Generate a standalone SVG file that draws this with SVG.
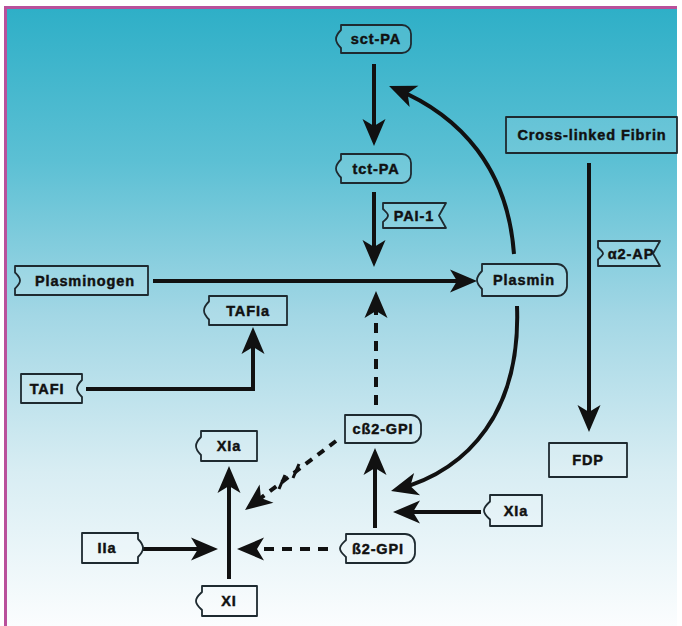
<svg xmlns="http://www.w3.org/2000/svg" width="682" height="626" viewBox="0 0 682 626">
<defs>
<linearGradient id="bg" x1="0" y1="0" x2="0" y2="1">
<stop offset="0" stop-color="#2eafc7"/>
<stop offset="0.25" stop-color="#5cc0d4"/>
<stop offset="0.5" stop-color="#a3d7e5"/>
<stop offset="0.75" stop-color="#d8edf3"/>
<stop offset="1" stop-color="#fbfdfe"/>
</linearGradient>
<marker id="ah" viewBox="-27 -12 35 24" refX="0" refY="0" markerWidth="35" markerHeight="24" orient="auto" markerUnits="userSpaceOnUse" overflow="visible">
<path d="M6,0 L-21,-11.5 L-14,0 L-21,11.5 Z" fill="#111"/>
</marker>
<style>
.nb{fill:rgba(255,255,255,0.13);stroke:#1e2a30;stroke-width:1.8;stroke-linejoin:round}
.t{font-family:"Liberation Sans",Arial,Helvetica,sans-serif;font-weight:bold;font-size:14.5px;letter-spacing:0.9px;fill:#111;stroke:#111;stroke-width:0.45px;text-anchor:middle}
.c{fill:none;stroke:#111;stroke-width:4;marker-end:url(#ah)}
.d{stroke-dasharray:10 8}
.h{fill:none;stroke:#111;stroke-width:3}
</style>
</defs>
<rect x="0" y="0" width="682" height="626" fill="#ffffff"/>
<rect x="5" y="7" width="672" height="619" fill="url(#bg)"/>
<path d="M5.5,626 V7.5 H677" fill="none" stroke="#b9509b" stroke-width="3"/>

<g id="connectors">
<path class="c" d="M374,64 V140"/>
<path class="c" d="M374,192 V261"/>
<path class="c" d="M153,281 H471"/>
<path class="c d" d="M376,405 V297"/>
<path class="c" d="M514,254 C508,170 462,116 394.6,88.3"/>
<path class="c" d="M517,306 C521,410 470,470 396.8,489.5"/>
<path class="c" d="M589,163 V426"/>
<path class="c" d="M86,389 H253 V333"/>
<path class="c" d="M375,528 V454"/>
<path class="c" d="M481,512 H399"/>
<path class="c d" style="stroke-dasharray:8 7" d="M336,441 L249.8,506.4"/>
<path class="h" d="M279,489 L285,475 M293,478 L299,464"/>
<path class="c" d="M229,579 V472"/>
<path class="c" d="M142,549 H212"/>
<path class="c d" d="M328,549 H243"/>
</g>

<g id="sct-PA">
<path class="nb" d="M341,25 H402 A9,9 0 0 1 411,34 V44 A9,9 0 0 1 402,53 H341 V48 C339,46 336,43 336,39 C336,35 339,32 341,30 Z"/>
<text class="t" x="376" y="44">sct-PA</text>
</g>
<g id="tct-PA">
<path class="nb" d="M341,154 H402 A9,9 0 0 1 411,163 V174 A9,9 0 0 1 402,183 H341 V177.5 C339,175.5 336,172.5 336,168.5 C336,164.5 339,161.5 341,159.5 Z"/>
<text class="t" x="376" y="173.5">tct-PA</text>
</g>
<g id="PAI-1">
<path class="nb" d="M383,203 H446 L439,215.5 L446,228 H383 V222 C385,220 388,218 388,215.5 C388,213 385,211 383,209 Z"/>
<text class="t" x="414" y="220.5">PAI-1</text>
</g>
<g id="Plasminogen">
<path class="nb" d="M15,266 H148 V295 H15 V288.5 C17,286.5 20,284 20,280.5 C20,277 17,274.5 15,272.5 Z"/>
<text class="t" x="85" y="285.5">Plasminogen</text>
</g>
<g id="TAFIa">
<path class="nb" d="M209,296 H287 V325 H209 V319.5 C207,317.5 204,314.5 204,310.5 C204,306.5 207,303.5 209,301.5 Z"/>
<text class="t" x="248" y="315.5">TAFIa</text>
</g>
<g id="Plasmin">
<path class="nb" d="M482,264 H557 A10,10 0 0 1 567,274 V286 A10,10 0 0 1 557,296 H482 V289 C480,287 477,284 477,280 C477,276 480,273 482,271 Z"/>
<text class="t" x="524" y="285">Plasmin</text>
</g>
<g id="Cross-linked-Fibrin">
<rect class="nb" x="506" y="117" width="171" height="36"/>
<text class="t" x="592" y="140">Cross-linked Fibrin</text>
</g>
<g id="a2-AP">
<path class="nb" d="M598,241 H660 L653,253.5 L660,266 H598 V259.5 C600,257.5 603,255.5 603,253.5 C603,251.5 600,249.5 598,247.5 Z"/>
<text class="t" x="631" y="258.5">α2-AP</text>
</g>
<g id="TAFI">
<path class="nb" d="M21,374 H82 V380 C80,382 77,385 77,388.5 C77,392 80,395 82,397 V403 H21 Z"/>
<text class="t" x="47" y="393.5">TAFI</text>
</g>
<g id="FDP">
<rect class="nb" x="549" y="443" width="78" height="34"/>
<text class="t" x="588" y="465">FDP</text>
</g>
<g id="cB2-GPI">
<path class="nb" d="M345,415 H411 A10,10 0 0 1 421,425 V433 A10,10 0 0 1 411,443 H345 Z"/>
<text class="t" x="383" y="434">cß2-GPI</text>
</g>
<g id="XIa-left">
<path class="nb" d="M201,431 H257 V461 H201 V455 C199,453 196,450 196,446 C196,442 199,439 201,437 Z"/>
<text class="t" x="229" y="451">XIa</text>
</g>
<g id="XIa-right">
<path class="nb" d="M490,495 H542 V526 H490 V519.5 C488,517.5 484,514.5 484,510.5 C484,506.5 488,503.5 490,501.5 Z"/>
<text class="t" x="516" y="516">XIa</text>
</g>
<g id="IIa">
<path class="nb" d="M82,533 H138 V539 C140,541 143,544 143,548 C143,552 140,555 138,557 V563 H82 Z"/>
<text class="t" x="107" y="553">IIa</text>
</g>
<g id="B2-GPI">
<path class="nb" d="M346,534 H405 A10,10 0 0 1 415,544 V553 A10,10 0 0 1 405,563 H346 V557 C344,555 340,552 340,548.5 C340,545 344,542 346,540 Z"/>
<text class="t" x="378" y="553.5">ß2-GPI</text>
</g>
<g id="XI">
<path class="nb" d="M202,586 H257 V616 H202 V610 C200,608 196,605 196,601 C196,597 200,594 202,592 Z"/>
<text class="t" x="229" y="606">XI</text>
</g>
</svg>
